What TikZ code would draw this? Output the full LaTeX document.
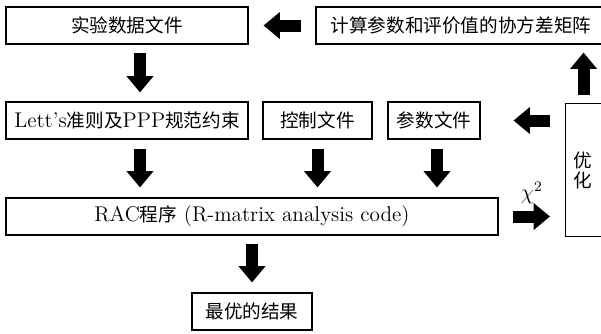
\documentclass[tikz,border=0pt]{standalone}
\usepackage{fontspec}
\newfontfamily\cjk[Scale=0.875]{Noto Sans CJK SC}
\usetikzlibrary{arrows.meta}
\newcommand\pxu{0.55pt}

\begin{document}
\begin{tikzpicture}[x=0.55pt, y=-0.55pt, every node/.style={font=\fontsize{11.7}{13}\selectfont}]
  \tikzstyle{box}=[draw, line width=0.6pt, minimum height=37*\pxu, inner sep=0pt]
  \tikzstyle{edge}=[line width=12*\pxu, -{Triangle[width=14.3pt, length=9pt]}]
  \clip (0,0) rectangle (601,333);
  \node[box, minimum width=242*\pxu] (data) at (127, 25.5) {\cjk 实验数据文件};
  \node[box, minimum width=290*\pxu] (cov) at (461, 25.5) {\cjk 计算参数和评价值的协方差矩阵};
  \node[box, minimum width=242*\pxu] (lett) at (127, 120.5) {Lett's{\cjk 准则及}PPP{\cjk 规范约束}};
  \node[box, minimum width=109*\pxu] (ctrl) at (317.5, 120.5) {\cjk 控制文件};
  \node[box, minimum width=92*\pxu] (param) at (434, 120.5) {\cjk 参数文件};
  \node[box, anchor=west, minimum height=133*\pxu, inner xsep=8*\pxu, text width=30*\pxu, align=left,
        font=\fontsize{11.7}{11}\selectfont] (opt) at (565, 170) {\cjk 优\\化};
  \node[box, minimum width=492*\pxu] (rac) at (252, 216.5) {RAC{\cjk 程序} (R-matrix analysis code)};
  \node[box, minimum width=120*\pxu] (result) at (252, 311.5) {\cjk 最优的结果};
  % arrows
  \draw[edge, shorten <=14*\pxu, shorten >=15*\pxu] (cov.west) -- (data.east);
  \draw[edge, shorten <=8*\pxu, shorten >=9*\pxu] ([xshift=13*\pxu]data.south) -- ([xshift=13*\pxu]lett.north);
  \foreach \n/\s in {lett/13, ctrl/0, param/3} {
    \draw[edge, shorten <=9*\pxu, shorten >=10*\pxu] ([xshift=\s*\pxu]\n.south) -- ([xshift=\s*\pxu]\n.south |- rac.north);
  }
  \draw[edge, shorten <=15*\pxu, shorten >=33*\pxu] (opt.west |- param.east) -- (param.east);
  \draw[edge, shorten <=8*\pxu, shorten >=8*\pxu] ([xshift=-5*\pxu]opt.north) -- ([xshift=-5*\pxu]opt.north |- cov.south);
  \draw[edge, shorten <=14*\pxu, shorten >=15*\pxu] (rac.east) -- (rac.east -| opt.west)
    node[midway, above=1*\pxu] {$\chi^2$};
  \draw[edge, shorten <=8*\pxu, shorten >=10*\pxu] (result.north |- rac.south) -- (result.north);
\end{tikzpicture}
\end{document}
